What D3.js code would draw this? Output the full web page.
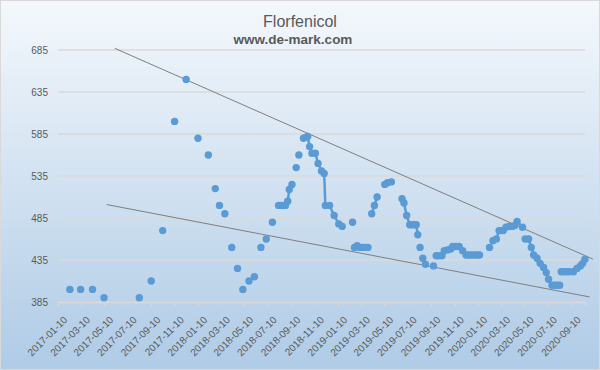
<html><head>
  <script type="text/javascript" src="https://d3js.org/d3.v7.min.js"></script>
  <style>
    body { margin: 0; }
    text { font-family: "Liberation Sans", Arial, sans-serif; fill: #595959; }
  </style>
</head>
<body>
<script>
// weekly-ish prices, null = gap in the sheet (breaks the line)
var dates = [
  "2017-02-10", null, "2017-03-10", null, "2017-04-10", null, "2017-05-10", null,
  "2017-08-10", null, "2017-09-10", null, "2017-10-10", null, "2017-11-10", null,
  "2017-12-10", null, "2018-01-10", null, "2018-02-06", null, "2018-02-24", null,
  "2018-03-07", null, "2018-03-21", null, "2018-04-08", null, "2018-04-23", null,
  "2018-05-07", null, "2018-05-23", "2018-06-06", null, "2018-06-23", null,
  "2018-07-07", null, "2018-07-23", null,
  "2018-08-08", "2018-08-14", "2018-08-20", "2018-08-26", "2018-09-01", "2018-09-05", "2018-09-12", null,
  "2018-09-23", null, "2018-09-30", null,
  "2018-10-12", "2018-10-18", "2018-10-23", "2018-10-28", "2018-11-03", "2018-11-12", "2018-11-19",
  "2018-11-28", "2018-12-05", "2018-12-08", "2018-12-19", "2018-12-31", "2019-01-12", "2019-01-21", null,
  "2019-02-17", null,
  "2019-02-22", "2019-03-01", "2019-03-08", "2019-03-15", "2019-03-22", "2019-03-29", null,
  "2019-04-08", "2019-04-15", "2019-04-22", null,
  "2019-05-12", "2019-05-19", "2019-05-29", null,
  "2019-06-26", "2019-07-01", "2019-07-08", "2019-07-16", "2019-07-22", "2019-07-28", "2019-08-02", "2019-08-06", null,
  "2019-08-12", null, "2019-08-19", "2019-08-26", null, "2019-09-16", null,
  "2019-09-23", "2019-09-30", "2019-10-08", "2019-10-14", "2019-10-22", "2019-10-31", "2019-11-05",
  "2019-11-13", "2019-11-22", "2019-12-01", "2019-12-10", "2019-12-17", "2019-12-24", "2020-01-01",
  "2020-01-08", "2020-01-14", null,
  "2020-02-09", null,
  "2020-02-18", "2020-02-27", "2020-03-05", "2020-03-10", "2020-03-16", "2020-03-23", "2020-03-31",
  "2020-04-08", "2020-04-15", "2020-04-21", "2020-05-05", null,
  "2020-05-12", "2020-05-21", "2020-05-28", "2020-06-03", "2020-06-12", "2020-06-20", "2020-06-29",
  "2020-07-06", "2020-07-12", "2020-07-21", "2020-07-28", "2020-08-04", "2020-08-10", null,
  "2020-08-14", "2020-08-21", "2020-08-28", "2020-09-04", "2020-09-15", "2020-09-24", "2020-10-03",
  "2020-10-09", "2020-10-15"
];
var prices = [
  400, null, 400, null, 400, null, 390, null,
  390, null, 410, null, 470, null, 600, null,
  650, null, 580, null, 560, null, 520, null,
  500, null, 490, null, 450, null, 425, null,
  400, null, 410, 415, null, 450, null,
  460, null, 480, null,
  500, 500, 500, 500, 505, 519, 525, null,
  545, null, 560, null,
  580, 581, 582, 570, 562, 562, 550,
  541, 538, 500, 500, 488, 478, 475, null,
  480, null,
  450, 452, 450, 450, 450, 450, null,
  490, 500, 510, null,
  525, 527, 528, null,
  508, 503, 488, 477, 477, 477, 477, 465, null,
  450, null, 437, 430, null, 428, null,
  440, 440, 440, 446, 447, 448, 451,
  451, 451, 446, 441, 441, 441, 441,
  441, 441, null,
  450, null,
  458, 460, 470, 470, 470, 474, 475,
  475, 476, 481, 474, null,
  460, 460, 450, 441, 437, 431, 426,
  420, 412, 405, 405, 405, 405, null,
  421, 421, 421, 421, 421, 425, 428,
  431, 436
];

// hand-drawn trend lines [date, value]
var upperTrend = [["2017-06-07", 687], ["2020-11-05", 436]];
var lowerTrend = [["2017-05-17", 501], ["2020-10-27", 391]];

var tickDates = ["2017-01-10", "2017-03-10", "2017-05-10", "2017-07-10", "2017-09-10", "2017-11-10",
  "2018-01-10", "2018-03-10", "2018-05-10", "2018-07-10", "2018-09-10", "2018-11-10",
  "2019-01-10", "2019-03-10", "2019-05-10", "2019-07-10", "2019-09-10", "2019-11-10",
  "2020-01-10", "2020-03-10", "2020-05-10", "2020-07-10", "2020-09-10"];
var yTicks = [385, 435, 485, 535, 585, 635, 685];

var parse = d3.timeParse("%Y-%m-%d");
var data = dates.map(function(d, i) { return {date: d ? parse(d) : null, price: prices[i]}; });

var width = 600, height = 370;
var svg = d3.select("body").append("svg")
  .attr("width", width).attr("height", height);

var grad = svg.append("defs").append("linearGradient")
  .attr("id", "bg").attr("x1", 0).attr("y1", 0).attr("x2", 0).attr("y2", 1);
grad.append("stop").attr("offset", "0%").attr("stop-color", "#f4f8fc");
grad.append("stop").attr("offset", "100%").attr("stop-color", "#afcbe6");

svg.append("rect").attr("x", 0.5).attr("y", 0.5).attr("width", width - 1).attr("height", height - 1)
  .attr("fill", "url(#bg)").attr("stroke", "#d9d9d9");

var x = d3.scaleTime().domain([parse("2017-01-10"), parse("2020-10-15")]).range([58, 585]);
var y = d3.scaleLinear().domain([385, 685]).range([302, 50]);

// gridlines
svg.append("g").selectAll("line").data(yTicks.slice(1)).enter().append("line")
  .attr("x1", 58).attr("x2", 585)
  .attr("y1", function(d) { return y(d); }).attr("y2", function(d) { return y(d); })
  .attr("stroke", "#dadada").attr("stroke-width", 1.3);

// y axis labels
var yAxis = svg.append("g").attr("transform", "translate(52,0)")
  .call(d3.axisLeft(y).tickValues(yTicks).tickSize(0).tickPadding(4));
yAxis.select(".domain").remove();
yAxis.selectAll("text").attr("fill", "#595959").style("font-size", "10px")
  .style("font-family", "Liberation Sans, Arial, sans-serif");

// x axis
var xAxis = svg.append("g").attr("transform", "translate(0," + y(385) + ")")
  .call(d3.axisBottom(x).tickValues(tickDates.map(parse)).tickSize(4)
    .tickFormat(d3.timeFormat("%Y-%m-%d")));
xAxis.select(".domain").attr("stroke", "#d9d9d9").attr("stroke-width", 1.3);
xAxis.selectAll(".tick line").attr("stroke", "#d9d9d9");
xAxis.selectAll("text")
  .attr("fill", "#595959").style("font-size", "10px")
  .style("font-family", "Liberation Sans, Arial, sans-serif")
  .attr("text-anchor", "end")
  .attr("y", 0).attr("dy", "0.35em")
  .attr("transform", "translate(7,16) rotate(-45)");

// trend lines
var trend = d3.line()
  .x(function(d) { return x(parse(d[0])); })
  .y(function(d) { return y(d[1]); });
[upperTrend, lowerTrend].forEach(function(t) {
  svg.append("path").datum(t).attr("d", trend)
    .attr("fill", "none").attr("stroke", "#7f7f7f").attr("stroke-width", 1);
});

// price series
var valueline = d3.line()
  .defined(function(d) { return d.price != null; })
  .x(function(d) { return x(d.date); })
  .y(function(d) { return y(d.price); });
svg.append("path").datum(data).attr("d", valueline)
  .attr("fill", "none").attr("stroke", "#5b9bd5").attr("stroke-width", 2.5);

svg.append("g").selectAll("circle")
  .data(data.filter(function(d) { return d.price != null; }))
  .enter().append("circle")
  .attr("cx", function(d) { return x(d.date); })
  .attr("cy", function(d) { return y(d.price); })
  .attr("r", 3.7).attr("fill", "#5b9bd5");

// titles
svg.append("text").attr("x", 300).attr("y", 27).attr("text-anchor", "middle")
  .style("font-size", "16px").text("Florfenicol");
svg.append("text").attr("x", 293).attr("y", 44).attr("text-anchor", "middle")
  .style("font-size", "13.5px").style("font-weight", "bold").text("www.de-mark.com");
</script>
</body></html>
